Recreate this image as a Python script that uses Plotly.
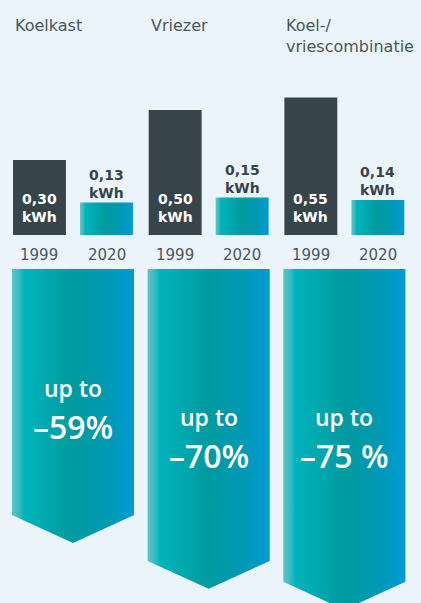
import plotly.graph_objects as go

# Energy use per day, old vs new appliances
categories = ["Koelkast", "Vriezer", "Koel-/<br>vriescombinatie"]
years = ["1999", "2020"]
kwh_1999 = [0.30, 0.50, 0.55]
kwh_2020 = [0.13, 0.15, 0.14]
kwh_1999_labels = ["0,30<br>kWh", "0,50<br>kWh", "0,55<br>kWh"]
kwh_2020_labels = ["0,13<br>kWh", "0,15<br>kWh", "0,14<br>kWh"]
reduction_pct = [59, 70, 75]
reduction_labels = ["–59%", "–70%", "–75 %"]

BG = "#ecf4fb"
DARK = "#374449"
TEXT = "#4a575e"
FONT = "DejaVu Sans"
BIG_FONT = "Open Sans"
TEAL_SCALE = [[0.0, "#5cc3c8"], [0.05, "#3fbdc3"], [0.1, "#00b4bb"],
              [0.5, "#009a9f"], [0.78, "#0099b4"], [1.0, "#009bd6"]]

W, H = 421, 603
BAR_W = 0.39          # bar width in group units
OFF = 0.247           # bar offset from group centre
ARROW_HW = 0.45       # half width of the arrows
TIP = 6.7             # arrow tip depth in percentage units

# axis geometry
x_range = [-0.538, 2.565]
bars_bottom_px = 235
y1_dom = [1 - bars_bottom_px / H, 1.0]
y1_max = bars_bottom_px / 250.0
arrows_top_px = 269
y2_dom = [0.0, 1 - arrows_top_px / H]
y2_max = (H - arrows_top_px) / 4.17

fig = go.Figure()

# 1999 bars
fig.add_trace(go.Bar(
    x=[i - OFF for i in range(len(categories))], y=kwh_1999,
    width=BAR_W, marker=dict(color=DARK, line=dict(width=0)),
    xaxis="x", yaxis="y", hoverinfo="skip"))

# 2020 bars with horizontal gradient fill
for i, v in enumerate(kwh_2020):
    c = i + OFF
    fig.add_trace(go.Scatter(
        x=[c - BAR_W / 2, c + BAR_W / 2, c + BAR_W / 2, c - BAR_W / 2, c - BAR_W / 2],
        y=[0, 0, v, v, 0], mode="lines", fill="toself",
        fillgradient=dict(type="horizontal", colorscale=TEAL_SCALE),
        line=dict(width=0, color="rgba(0,0,0,0)"),
        xaxis="x", yaxis="y", hoverinfo="skip"))

# reduction arrows, length proportional to the percentage
for i, p in enumerate(reduction_pct):
    fig.add_trace(go.Scatter(
        x=[i - ARROW_HW, i + ARROW_HW, i + ARROW_HW, i, i - ARROW_HW, i - ARROW_HW],
        y=[0, 0, p, p + TIP, p, 0], mode="lines", fill="toself",
        fillgradient=dict(type="horizontal", colorscale=TEAL_SCALE),
        line=dict(width=0, color="rgba(0,0,0,0)"),
        xaxis="x", yaxis="y2", hoverinfo="skip"))

annotations = []
# group titles
for i, name in enumerate(categories):
    annotations.append(dict(
        x=i - OFF - BAR_W / 2, y=1 - 14 / H, xref="x", yref="paper",
        text=name, showarrow=False, xanchor="left", yanchor="top", align="left",
        font=dict(family=FONT, size=16, color=TEXT)))

for i in range(len(categories)):
    # value labels
    annotations.append(dict(
        x=i - OFF, y=0, xref="x", yref="y", text=kwh_1999_labels[i],
        showarrow=False, yanchor="bottom", yshift=8,
        font=dict(family=FONT, size=14, color="white", weight="bold")))
    annotations.append(dict(
        x=i + OFF, y=kwh_2020[i], xref="x", yref="y", text=kwh_2020_labels[i],
        showarrow=False, yanchor="bottom", yshift=0,
        font=dict(family=FONT, size=14, color=DARK, weight="bold")))
    # year labels
    for j, yr in enumerate(years):
        annotations.append(dict(
            x=i + (2 * j - 1) * OFF, y=0, xref="x", yref="y", text=yr,
            showarrow=False, yanchor="top", yshift=-9,
            font=dict(family=FONT, size=15, color=TEXT)))

# reduction texts inside arrows
text_depth = [28.5, 35.5, 35.5]
for i, lab in enumerate(reduction_labels):
    annotations.append(dict(
        x=i, y=text_depth[i], xref="x", yref="y2", text="up to",
        showarrow=False, yanchor="middle",
        font=dict(family=BIG_FONT, size=23, color="white", weight=600)))
    annotations.append(dict(
        x=i, y=text_depth[i] + 9.2, xref="x", yref="y2", text=lab,
        showarrow=False, yanchor="middle",
        font=dict(family=BIG_FONT, size=32, color="white", weight=600)))

fig.update_layout(
    width=W, height=H,
    margin=dict(l=0, r=0, t=0, b=0),
    paper_bgcolor=BG, plot_bgcolor=BG,
    showlegend=False,
    xaxis=dict(range=x_range, visible=False, fixedrange=True, anchor="y"),
    yaxis=dict(range=[0, y1_max], domain=y1_dom, visible=False, fixedrange=True),
    yaxis2=dict(range=[y2_max, 0], domain=y2_dom, visible=False, fixedrange=True,
                anchor="x"),
    annotations=annotations,
)

fig.write_html("out.html")
